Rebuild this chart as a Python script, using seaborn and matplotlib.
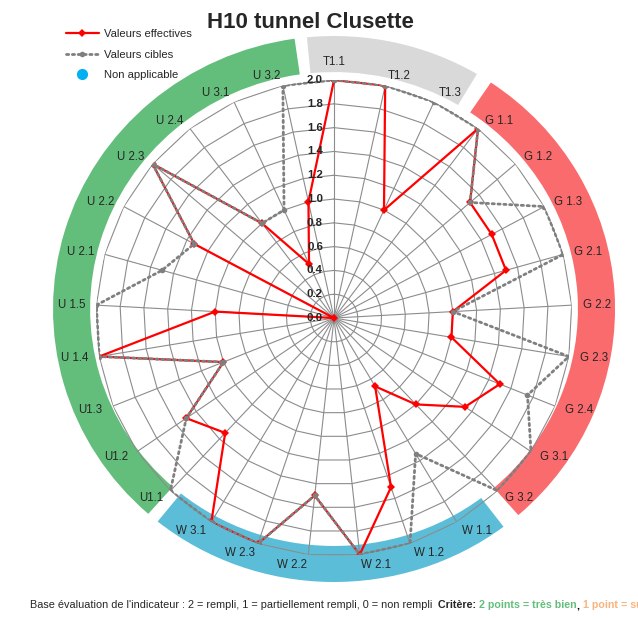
import numpy as np
import matplotlib
matplotlib.use("Agg")
import matplotlib.pyplot as plt
from matplotlib.patches import Wedge
from matplotlib.lines import Line2D
import seaborn as sns

# data
categories = ["T1.1", "T1.2", "T1.3",
              "G 1.1", "G 1.2", "G 1.3", "G 2.1", "G 2.2", "G 2.3", "G 2.4", "G 3.1", "G 3.2",
              "W 1.1", "W 1.2", "W 2.1", "W 2.2", "W 2.3", "W 3.1",
              "U1.1", "U1.2", "U1.3", "U 1.4", "U 1.5", "U 2.1", "U 2.2", "U 2.3", "U 2.4", "U 3.1", "U 3.2"]
actual = [2.0, 2.0, 1.0,
          2.0, 1.5, 1.5, 1.5, 1.0, 1.0, 1.5, 1.33, 1.0,
          0.67, 1.5, 2.0, 1.5, 2.0, 2.0,
          1.33, 1.5, 1.0, 2.0, 1.0, 0.0, 1.33, 2.0, 1.0, 0.5, 1.0]
target = [2.0, 2.0, 2.0,
          2.0, 1.5, 2.0, 2.0, 1.0, 2.0, 1.75, 2.0, 2.0,
          1.33, 2.0, 2.0, 1.5, 2.0, 2.0,
          2.0, 1.5, 1.0, 2.0, 2.0, 1.5, 1.33, 2.0, 1.0, 1.0, 2.0]
groups = ["T", "G", "W", "U"]
ticks = [0.0, 0.2, 0.4, 0.6, 0.8, 1.0, 1.2, 1.4, 1.6, 1.8, 2.0]

# colours / layout
band_colors = {"T": "#D9D9D9", "G": "#FA6B6E", "W": "#5BBDD7", "U": "#63BE7B"}
# band spans (compass degrees, clockwise from top)
band_spans = {"T": (-5.7, 31.3), "G": (34.7, 138.2), "W": (142.1, 219.7), "U": (222.2, 351.7)}
grid_col = "#8C8C8C"

sns.set_theme(style="white")
plt.rcParams["font.family"] = ["Liberation Sans", "DejaVu Sans"]

fig = plt.figure(figsize=(6.38, 6.2), dpi=100)

# coloured ring behind the radar (slightly elliptical like the original)
band_ax = fig.add_axes([0.0831, 0.0613, 0.8809, 0.8806])
band_ax.set_xlim(-1, 1)
band_ax.set_ylim(-1, 1)
band_ax.axis("off")
for g in groups:
    a1, a2 = band_spans[g]
    t1 = np.degrees(np.arctan2(np.cos(np.radians(a2)) / 273, np.sin(np.radians(a2)) / 281))
    t2 = np.degrees(np.arctan2(np.cos(np.radians(a1)) / 273, np.sin(np.radians(a1)) / 281))
    band_ax.add_patch(Wedge((0, 0), 1.0, t1, t2, width=0.132, color=band_colors[g], lw=0))

# radar
ax = fig.add_axes([0.1505, 0.1032, 0.7461, 0.7677], projection="polar")
ax.set_facecolor("none")
ax.set_theta_zero_location("N")
ax.set_theta_direction(-1)
ax.grid(False)
ax.spines["polar"].set_visible(False)
ax.set_xticks([])
ax.set_yticks([])

n = len(categories)
theta = np.linspace(0, 2 * np.pi, n, endpoint=False)
theta_c = np.append(theta, 2 * np.pi)

for r in ticks[1:]:
    ax.plot(theta_c, [r] * (n + 1), color=grid_col, lw=0.8, zorder=1)
for t in theta:
    ax.plot([t, t], [0, 2.0], color=grid_col, lw=0.8, zorder=1)

sns.lineplot(x=theta_c, y=actual + actual[:1], ax=ax, sort=False, color="red",
             lw=1.6, marker="D", markersize=4.5, markeredgewidth=0, zorder=3)
sns.lineplot(x=theta_c, y=target + target[:1], ax=ax, sort=False, color="#7F7F7F",
             lw=2.0, linestyle=(0, (0.8, 1.3)), dash_capstyle="round",
             marker="o", markersize=4, markeredgewidth=0, zorder=4)
ax.set_ylim(0, 2.0)
ax.set_xlabel("")
ax.set_ylabel("")

for r in ticks:
    ax.annotate(f"{r:.1f}", xy=(0, r), xytext=(-8, 0), textcoords="offset points",
                ha="right", va="center", fontsize=8.2, fontweight="bold", zorder=5)

for t, lbl in zip(theta, categories):
    s, c = np.sin(t), np.cos(t)
    if abs(s) < 0.05:
        ha, dx, dy = "center", 0, c * 18
    else:
        ha = "left" if s > 0 else "right"
        dx, dy = s * 11, c * 10
    ax.annotate(lbl, xy=(t, 2.0), xytext=(dx * 0.72, dy * 0.72),
                textcoords="offset points", ha=ha, va="center", fontsize=8.3)

# legend
handles = [Line2D([], [], color="red", lw=1.6, marker="D", markersize=4.5, markeredgewidth=0),
           Line2D([], [], color="#7F7F7F", lw=2.0, linestyle=(0, (0.8, 1.3)),
                  dash_capstyle="round", marker="o", markersize=4, markeredgewidth=0),
           Line2D([], [], ls="none", marker="o", color="#00B0F0", markersize=7)]
fig.legend(handles, ["Valeurs effectives", "Valeurs cibles", "Non applicable"],
           loc="upper left", bbox_to_anchor=(66 / 638, 1 - 29 / 620), frameon=False,
           fontsize=8.1, handlelength=2.9, handletextpad=0.45, labelspacing=0.95,
           borderpad=0, borderaxespad=0)

fig.text(310 / 638, 1 - 23 / 620, "H10 tunnel Clusette", ha="center", va="center",
         fontsize=16, fontweight="bold")

# footer
txt_ax = fig.add_axes([0, 0, 1, 1])
txt_ax.axis("off")
txt_ax.set_zorder(10)
txt_ax.text(30 / 638, 1 - 605 / 620, "Base évaluation de l'indicateur : 2 = rempli, 1 = partiellement rempli, 0 = non rempli",
            ha="left", va="center", fontsize=7.85, transform=fig.transFigure)
prev = txt_ax.text(438 / 638, 1 - 605 / 620, "Critère: ", ha="left", va="center",
                   fontsize=7.7, fontweight="bold", transform=fig.transFigure)
for part, col in [("2 points = très bien", "#63BE7B"), (", ", "black"),
                  ("1 point = suffisant", "#F8B47E")]:
    prev = txt_ax.annotate(part, xy=(1, 0), xycoords=prev, ha="left", va="bottom",
                           fontsize=7.7, fontweight="bold", color=col)

fig.savefig("out.png", dpi=100)
